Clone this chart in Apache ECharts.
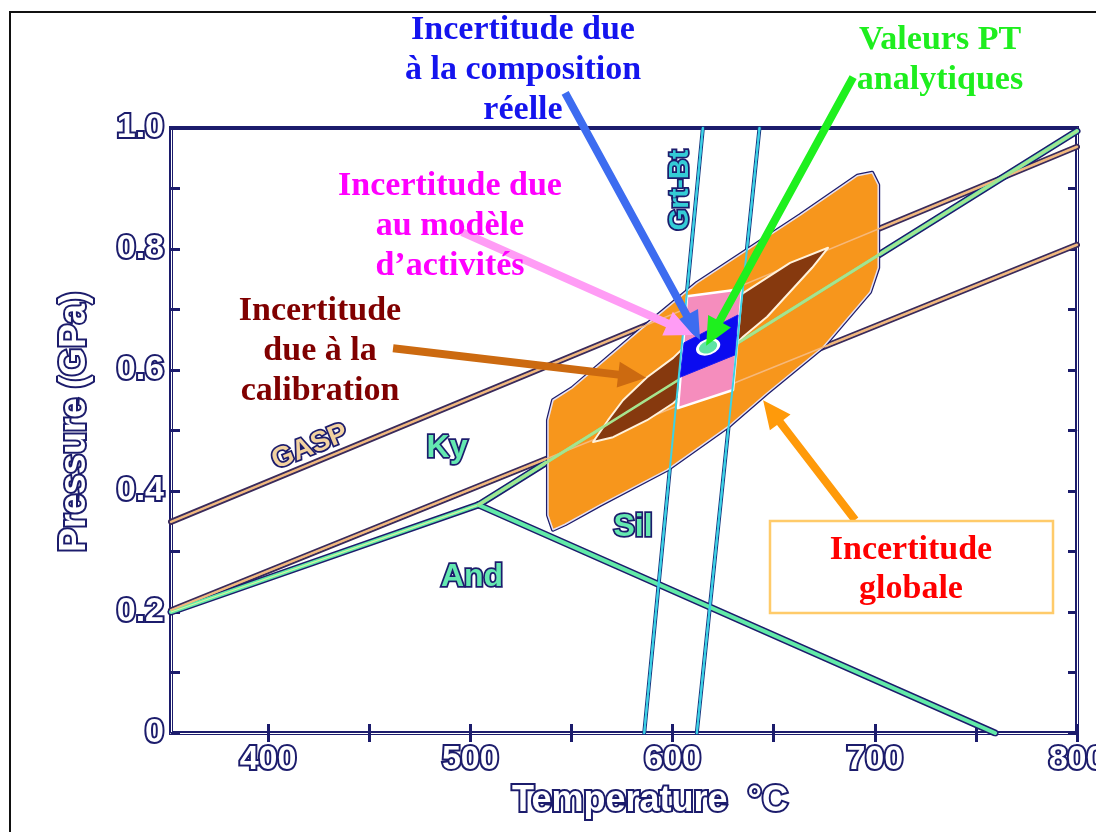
<!DOCTYPE html>
<html><head><meta charset="utf-8">
<script src="https://cdn.jsdelivr.net/npm/echarts@6/dist/echarts.min.js"></script>
<style>html,body{margin:0;padding:0;background:#fff}#c{width:1096px;height:832px}</style>
</head><body><div id="c"></div>
<script>
// ---- axis ticks ----
const xTickValues = [400, 450, 500, 550, 600, 650, 700, 750, 800];
const xLabelValues = [400, 500, 600, 700, 800];
const yLabelValues = [0, 0.2, 0.4, 0.6, 0.8, 1.0];

// ---- reaction lines [T (°C), P (GPa)] ----
const gaspLine = [[352, 0.349], [800, 0.969]];
const lowerLine = [[352, 0.203], [800, 0.807]];
const kyAndLine = [[352, 0.200], [504, 0.377]];
const kySilLine = [[504, 0.377], [800, 0.995]];
const andSilLine = [[504, 0.377], [759.5, 0]];
const grtBt1 = [[586, 0], [615, 1]];
const grtBt2 = [[612, 0], [643, 1]];

// ---- uncertainty fields [T, P] ----
const globalField = [[540.9,0.336],[538.4,0.360],[538.4,0.517],[540.9,0.550],[550.3,0.570],[583.9,0.666],[612.1,0.744],[663.1,0.856],[691.3,0.921],[698.7,0.926],[701.7,0.906],[701.7,0.769],[697.7,0.729],[674.5,0.638],[646.8,0.562],[628.5,0.509],[597.3,0.435],[564.2,0.377],[546.9,0.345]];
const calibField = [[560.7,0.481],[568.1,0.517],[575.5,0.550],[587.4,0.588],[600.3,0.620],[618.6,0.679],[634.9,0.727],[658.1,0.777],[676.9,0.802],[669.0,0.769],[646.8,0.688],[634.9,0.655],[618.6,0.600],[600.3,0.545],[587.4,0.517],[570.6,0.489]];
const activityField = [[607.2,0.722],[634.4,0.734],[629.9,0.567],[602.7,0.537]];
const compositionField = [[605.7,0.645],[632.4,0.691],[630.9,0.625],[603.7,0.588]];
const ptValue = [[617.6, 0.638]];

// ---- annotation arrows [T0, P0, T1(tip), P1(tip)] ----
const arrows = [
  [546.9, 1.058, 613.6, 0.650],
  [689.3, 1.084, 616.6, 0.640],
  [495.9, 0.828, 610.2, 0.658],
  [461.8, 0.636, 586.9, 0.587],
  [690.3, 0.352, 644.8, 0.550]
];
const arrowColors = ['#3d6cf0', '#1ef01e', '#ff9cf5', '#cc6a10', '#ff9a0a'];

const NAVY = '#1c1c6c';
const chart = echarts.init(document.getElementById('c'), null, {renderer: 'canvas'});

function lineSeries(data, color, width, z, opacity) {
  return {type: 'line', data: data, symbol: 'none', silent: true, z: z,
    lineStyle: {color: color, width: width, opacity: opacity == null ? 1 : opacity, cap: 'round'}, animation: false};
}
function polySeries(points, styles, z) {
  return {type: 'custom', z: z, silent: true, animation: false, clip: true,
    data: points,
    renderItem: function (params, api) {
      if (params.dataIndex !== 0) return null;
      const pts = points.map(p => api.coord(p));
      return {type: 'group', children: styles.map(s => ({type: 'polygon', shape: {points: pts}, style: s}))};
    }};
}

const axisLabelStyle = {color: '#ffffff', textBorderColor: NAVY, textBorderWidth: 4,
  fontFamily: 'Liberation Sans', fontWeight: 'bold', fontSize: 34};

const option = {
  backgroundColor: '#ffffff',
  animation: false,
  grid: {left: 171, top: 128, width: 906, height: 605, show: true, borderColor: NAVY, borderWidth: 4,
    backgroundColor: 'transparent', containLabel: false, outerBoundsMode: 'none'},
  xAxis: [
    {type: 'value', min: 352, max: 800, position: 'bottom',
      axisLine: {show: true, lineStyle: {color: '#ffffff', width: 1}},
      axisTick: {show: true, inside: true, length: 9, customValues: xTickValues, lineStyle: {color: NAVY, width: 3}},
      axisLabel: Object.assign({customValues: xLabelValues, margin: 10, hideOverlap: false}, axisLabelStyle),
      splitLine: {show: false}},
    {type: 'value', min: 352, max: 800, position: 'top',
      axisLine: {show: true, lineStyle: {color: '#ffffff', width: 1}},
      axisTick: {show: true, inside: true, length: 9, customValues: xTickValues, lineStyle: {color: NAVY, width: 3}},
      axisLabel: {show: false}, splitLine: {show: false}}
  ],
  yAxis: [
    {type: 'value', min: 0, max: 1, interval: 0.1, position: 'left',
      axisLine: {show: true, lineStyle: {color: '#ffffff', width: 1}},
      axisTick: {show: true, inside: true, length: 9, lineStyle: {color: NAVY, width: 3}},
      axisLabel: Object.assign({customValues: yLabelValues, margin: 7,
        formatter: v => (v === 0 ? '0' : v.toFixed(1))}, axisLabelStyle),
      splitLine: {show: false}},
    {type: 'value', min: 0, max: 1, interval: 0.1, position: 'right',
      axisLine: {show: true, lineStyle: {color: '#ffffff', width: 1}},
      axisTick: {show: true, inside: true, length: 9, lineStyle: {color: NAVY, width: 3}},
      axisLabel: {show: false}, splitLine: {show: false}}
  ],
  series: [
    // reaction lines (outline + core)
    lineSeries(gaspLine, '#3a2a5a', 6, 2),
    lineSeries(lowerLine, '#3a2a5a', 6, 2),
    lineSeries(kyAndLine, NAVY, 7, 2),
    lineSeries(kySilLine, NAVY, 7, 2),
    lineSeries(andSilLine, NAVY, 7, 2),
    lineSeries(grtBt1, '#1a3a80', 4, 2),
    lineSeries(grtBt2, '#1a3a80', 4, 2),
    lineSeries(gaspLine, '#dcb48c', 2.5, 3),
    lineSeries(lowerLine, '#dcb48c', 2.5, 3),
    lineSeries(kyAndLine, '#62eaa8', 4, 3),
    lineSeries(kySilLine, '#62eaa8', 4, 3),
    lineSeries(andSilLine, '#62eaa8', 4, 3),
    lineSeries(kyAndLine, '#d8f5a0', 1.2, 3),
    lineSeries(grtBt1, '#3cd2e6', 2, 3),
    lineSeries(grtBt2, '#3cd2e6', 2, 3),
    // global uncertainty
    polySeries(globalField, [
      {fill: 'none', stroke: NAVY, lineWidth: 4, lineJoin: 'round'},
      {fill: '#f7961c', stroke: '#e6e0f0', lineWidth: 1.5, lineJoin: 'round'}
    ], 4),
    lineSeries(gaspLine, '#f6b87a', 1.5, 5),
    lineSeries(lowerLine, '#f6b87a', 1.5, 5),
    lineSeries(kySilLine, '#74eea6', 3, 5),
    // calibration uncertainty
    polySeries(calibField, [
      {fill: '#86390e', stroke: '#fff2dc', lineWidth: 2, lineJoin: 'round'}
    ], 6),
    lineSeries(kySilLine, '#a6e48e', 2.5, 7),
    // activity model uncertainty
    polySeries(activityField, [
      {fill: '#f58dbd', stroke: '#ffffff', lineWidth: 2.5, lineJoin: 'round'}
    ], 8),
    // real composition uncertainty
    polySeries(compositionField, [
      {fill: '#0b0bf0', stroke: '#1a1af4', lineWidth: 1}
    ], 9),
    // analytical PT
    {type: 'scatter', data: ptValue, z: 10, silent: true, symbol: 'circle', symbolSize: [22, 14], symbolRotate: 20,
      itemStyle: {color: '#5fe3a4', borderColor: '#ffffff', borderWidth: 2.5, opacity: 1}},
    lineSeries(grtBt1, '#3cd2e6', 2, 11),
    lineSeries(grtBt2, '#3cd2e6', 2, 11),
    // arrows
    {type: 'custom', z: 12, silent: true, clip: false, animation: false,
      data: arrows, encode: {x: [0, 2], y: [1, 3]},
      renderItem: function (params, api) {
        const a = api.coord([api.value(0), api.value(1)]);
        const b = api.coord([api.value(2), api.value(3)]);
        const dx = b[0] - a[0], dy = b[1] - a[1];
        const L = Math.sqrt(dx * dx + dy * dy);
        const ux = dx / L, uy = dy / L, nx = -uy, ny = ux;
        const sw = 4, hw = 13, hl = 28;
        const bx = b[0] - ux * hl, by = b[1] - uy * hl;
        const pts = [
          [a[0] + nx * sw, a[1] + ny * sw], [bx + nx * sw, by + ny * sw], [bx + nx * hw, by + ny * hw],
          [b[0], b[1]],
          [bx - nx * hw, by - ny * hw], [bx - nx * sw, by - ny * sw], [a[0] - nx * sw, a[1] - ny * sw]
        ];
        return {type: 'polygon', shape: {points: pts}, style: {fill: arrowColors[params.dataIndex]}};
      }}
  ],
  graphic: [
    {type: 'rect', z: 100, silent: true, shape: {x: 10, y: 12, width: 1100, height: 840}, style: {fill: 'none', stroke: '#111', lineWidth: 2}},
    {type: 'rect', z: 100, silent: true, shape: {x: 770, y: 521, width: 283, height: 92}, style: {fill: '#ffffff', stroke: '#ffcb6a', lineWidth: 2.5}},
    {type: 'text', z: 101, silent: true, style: {text: 'Incertitude due\nà la composition\nréelle', x: 523, y: 70, align: 'center', verticalAlign: 'middle', lineHeight: 40, font: 'bold 34px "Liberation Serif"', fill: '#1414ee'}},
    {type: 'text', z: 101, silent: true, style: {text: 'Valeurs PT\nanalytiques', x: 940, y: 60, align: 'center', verticalAlign: 'middle', lineHeight: 40, font: 'bold 34px "Liberation Serif"', fill: '#1eee1e'}},
    {type: 'text', z: 101, silent: true, style: {text: 'Incertitude due\nau modèle\nd\u2019activités', x: 450, y: 226, align: 'center', verticalAlign: 'middle', lineHeight: 40, font: 'bold 34px "Liberation Serif"', fill: '#ff00ff'}},
    {type: 'text', z: 101, silent: true, style: {text: 'Incertitude\ndue à la\ncalibration', x: 320, y: 351, align: 'center', verticalAlign: 'middle', lineHeight: 40, font: 'bold 34px "Liberation Serif"', fill: '#800000'}},
    {type: 'text', z: 101, silent: true, style: {text: 'Incertitude\nglobale', x: 911, y: 570, align: 'center', verticalAlign: 'middle', lineHeight: 39, font: 'bold 34px "Liberation Serif"', fill: '#ff0000'}},
    // axis titles
    {type: 'text', z: 101, silent: true, style: {text: 'Temperature  °C', x: 650, y: 801, align: 'center', verticalAlign: 'middle', font: 'bold 36px "Liberation Sans"', fill: '#ffffff', stroke: NAVY, lineWidth: 4}},
    {type: 'text', z: 101, silent: true, rotation: Math.PI / 2, x: 75, y: 422, style: {text: 'Pressure (GPa)', x: 0, y: 0, align: 'center', verticalAlign: 'middle', font: 'bold 36px "Liberation Sans"', fill: '#ffffff', stroke: NAVY, lineWidth: 4}},
    // field labels
    {type: 'text', z: 101, silent: true, rotation: 22 * Math.PI / 180, x: 310, y: 447, style: {text: 'GASP', x: 0, y: 0, align: 'center', verticalAlign: 'middle', font: 'bold 28px "Liberation Sans"', fill: '#f2d2a0', stroke: NAVY, lineWidth: 3.5}},
    {type: 'text', z: 101, silent: true, style: {text: 'Ky', x: 447, y: 448, align: 'center', verticalAlign: 'middle', font: 'bold 32px "Liberation Sans"', fill: '#64e8b0', stroke: NAVY, lineWidth: 3.5}},
    {type: 'text', z: 101, silent: true, style: {text: 'And', x: 472, y: 577, align: 'center', verticalAlign: 'middle', font: 'bold 32px "Liberation Sans"', fill: '#64e8b0', stroke: NAVY, lineWidth: 3.5}},
    {type: 'text', z: 101, silent: true, style: {text: 'Sil', x: 633, y: 527, align: 'center', verticalAlign: 'middle', font: 'bold 32px "Liberation Sans"', fill: '#64e8b0', stroke: NAVY, lineWidth: 3.5}},
    {type: 'text', z: 101, silent: true, rotation: Math.PI / 2, x: 680, y: 190, style: {text: 'Grt-Bt', x: 0, y: 0, align: 'center', verticalAlign: 'middle', font: 'bold 28px "Liberation Sans"', fill: '#34ccd6', stroke: NAVY, lineWidth: 3.5}}
  ]
};
chart.setOption(option);
</script>
</body></html>
